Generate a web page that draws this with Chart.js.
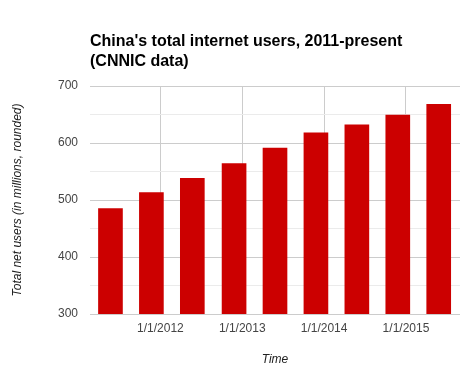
<!DOCTYPE html>
<html>
<head>
<meta charset="utf-8">
<script src="https://cdn.jsdelivr.net/npm/chart.js@4/dist/chart.umd.min.js"></script>
<style>
html,body{margin:0;padding:0;background:#fff;}
#wrap{width:466px;height:379px;position:relative;}
</style>
</head>
<body>
<div id="wrap"><canvas id="c" width="466" height="379"></canvas></div>
<script>
// Data
const titleLines = ["China's total internet users, 2011-present", "(CNNIC data)"];
const periods = [2011.39, 2011.89, 2012.39, 2012.90, 2013.40, 2013.90, 2014.40, 2014.90, 2015.40];
const users = [485, 513, 538, 564, 591, 618, 632, 649, 668];
const yearTicks = [2012, 2013, 2014, 2015];
const yTickValues = [300, 400, 500, 600, 700];
const yAxisTitle = "Total net users (in millions, rounded)";
const xAxisTitle = "Time";

const FONT = "'Liberation Sans', Arial, sans-serif";

new Chart(document.getElementById('c'), {
  type: 'bar',
  data: {
    datasets: [{
      data: periods.map((p, i) => ({x: p, y: users[i]})),
      backgroundColor: '#cc0000',
      borderWidth: 0,
      barThickness: 24
    }]
  },
  options: {
    responsive: false,
    animation: false,
    layout: {padding: {left: 0, right: 6, top: 0, bottom: 0}},
    plugins: {
      legend: {display: false},
      tooltip: {enabled: false},
      title: {
        display: true,
        text: titleLines,
        align: 'start',
        fullSize: false,
        color: '#000',
        font: {family: FONT, size: 16, weight: 'bold', lineHeight: 1.25},
        padding: {top: 32, bottom: 14}
      }
    },
    scales: {
      x: {
        type: 'linear',
        offset: false,
        min: 2011.14,
        max: 2015.66,
        afterBuildTicks: s => { s.ticks = yearTicks.map(v => ({value: v})); },
        afterFit: s => { s.height = 65; },
        ticks: {
          autoSkip: false, maxRotation: 0, padding: 7,
          color: '#444', font: {family: FONT, size: 12},
          callback: v => '1/1/' + v
        },
        grid: {color: '#cccccc', drawTicks: false, offset: false},
        border: {display: false},
        title: {
          display: true, text: xAxisTitle, color: '#222',
          font: {family: FONT, size: 12, style: 'italic'},
          padding: {top: 0, bottom: 12}
        }
      },
      y: {
        min: 300,
        max: 700,
        afterFit: s => { s.width = 90; },
        ticks: {
          stepSize: 50, padding: 12,
          color: '#444', font: {family: FONT, size: 12},
          callback: v => yTickValues.includes(v) ? String(v) : ''
        },
        grid: {
          drawTicks: false,
          color: c => (c.tick && yTickValues.includes(c.tick.value)) ? '#cccccc' : '#ebebeb'
        },
        border: {display: false},
        title: {
          display: true, text: yAxisTitle, color: '#222',
          font: {family: FONT, size: 12, style: 'italic'},
          padding: {top: 10, bottom: 0}
        }
      }
    }
  }
});
</script>
</body>
</html>
